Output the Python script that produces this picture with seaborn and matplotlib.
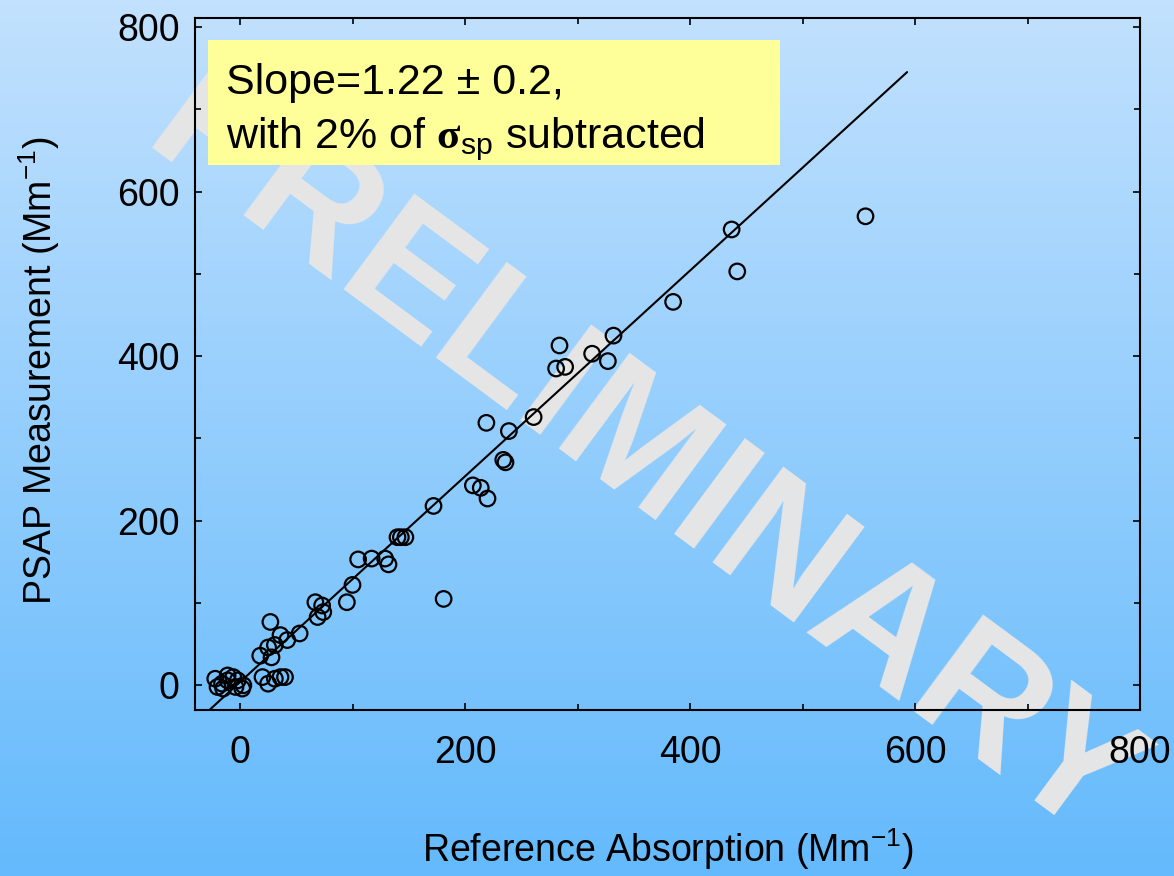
import numpy as np
import matplotlib
matplotlib.use("Agg")
import matplotlib.pyplot as plt
import seaborn as sns
from matplotlib.patches import Rectangle
from matplotlib.ticker import MultipleLocator

# === DANE ===
ref_abs = [-22, -16, -11, -6, -2, 3, -15, -4, -11, -20, 2,
           20, 25, 31, 36, 40,
           18, 28, 25, 31, 36, 42, 27,
           53, 67, 73, 74, 69,
           95, 100, 105, 117, 129, 132,
           140, 143, 147, 172, 181,
           207, 214, 220, 234, 236,
           219, 239, 261, 281, 289, 284,
           313, 327, 332, 385, 437, 442, 556]
psap = [8, 2, 6, 10, 6, 0, -4, -2, 12, -2, -4,
        10, 2, 8, 10, 10,
        36, 34, 46, 49, 61, 55, 77,
        63, 101, 97, 89, 83,
        101, 122, 153, 154, 154, 147,
        180, 180, 180, 218, 105,
        243, 240, 227, 274, 271,
        319, 309, 326, 385, 387, 413,
        403, 394, 425, 466, 554, 503, 570]

fit_slope = 1.25
fit_intercept = 4
fit_x = np.array([-29, 593])
fit_y = fit_slope * fit_x + fit_intercept

x_label = "Reference Absorption (Mm$^{-1}$)"
y_label = "PSAP Measurement (Mm$^{-1}$)"
note_1 = "Slope=1.22 \u00b1 0.2,"
note_2 = r"with 2% of $\boldsymbol{\sigma}_{\mathrm{sp}}$ subtracted"
watermark = "PRELIMINARY"

# === STYL ===
sns.set_style("ticks")
plt.rcParams["font.family"] = ["Liberation Sans", "DejaVu Sans"]
plt.rcParams["text.color"] = "black"
plt.rcParams["mathtext.fontset"] = "custom"
plt.rcParams["mathtext.rm"] = "Liberation Sans"
plt.rcParams["mathtext.it"] = "Liberation Sans:italic"
plt.rcParams["mathtext.bf"] = "Liberation Serif:bold"
plt.rcParams["mathtext.bfit"] = "Liberation Serif:bold"

fig = plt.figure(figsize=(11.74, 8.76), dpi=100)

# tło z gradientem
bg = fig.add_axes([0, 0, 1, 1], zorder=-10)
c_top = np.array([194, 225, 254]) / 255
c_bot = np.array([100, 186, 252]) / 255
t = np.linspace(0, 1, 256)[:, None, None]
bg.imshow(c_top + (c_bot - c_top) * t, aspect="auto", extent=[0, 1, 0, 1])
bg.axis("off")

# znak wodny
fig.text(640 / 1174, 1 - 462 / 876, watermark, rotation=-36.5, fontsize=124,
         fontweight="bold", color="#e6e6e6", ha="center", va="center",
         rotation_mode="anchor", zorder=-5)

ax = fig.add_axes([195 / 1174, 166 / 876, 945 / 1174, 692 / 876])
ax.patch.set_alpha(0)

sns.lineplot(x=fit_x, y=fit_y, color="black", lw=1.5, ax=ax, zorder=2)
sns.scatterplot(x=ref_abs, y=psap, ax=ax, s=125, marker="o",
                facecolors="none", edgecolor="black", linewidth=1.6, zorder=3)

ax.set_xlim(-40, 800)
ax.set_ylim(-30, 811)
for axis in (ax.xaxis, ax.yaxis):
    axis.set_major_locator(MultipleLocator(200))
    axis.set_minor_locator(MultipleLocator(100))
ax.tick_params(which="both", direction="in", top=True, right=True,
               color="black", width=1.2, labelsize=27, labelcolor="black")
ax.tick_params(which="major", length=5)
ax.tick_params(which="minor", length=4)
ax.tick_params(axis="x", pad=18)
ax.tick_params(axis="y", pad=11)
for sp in ax.spines.values():
    sp.set_color("black")
    sp.set_linewidth(1.5)

ax.set_xlabel(x_label, fontsize=27, color="black")
ax.xaxis.set_label_coords(0.5, -0.22)
ax.xaxis.label.set_verticalalignment("baseline")
ax.set_ylabel(y_label, fontsize=27, color="black")
ax.yaxis.set_label_coords(-0.141, 0.49)

# żółta ramka z opisem
ax.add_patch(Rectangle((0.0138, 0.7876), 0.605, 0.18, transform=ax.transAxes,
                       facecolor="#ffff99", edgecolor="none", zorder=4))
ax.text(0.0328, 0.890, note_1, transform=ax.transAxes, fontsize=31,
        va="baseline", color="black", zorder=5)
ax.text(0.0328, 0.812, note_2, transform=ax.transAxes, fontsize=31,
        va="baseline", color="black", zorder=5)

fig.savefig("out.png", dpi=100)
